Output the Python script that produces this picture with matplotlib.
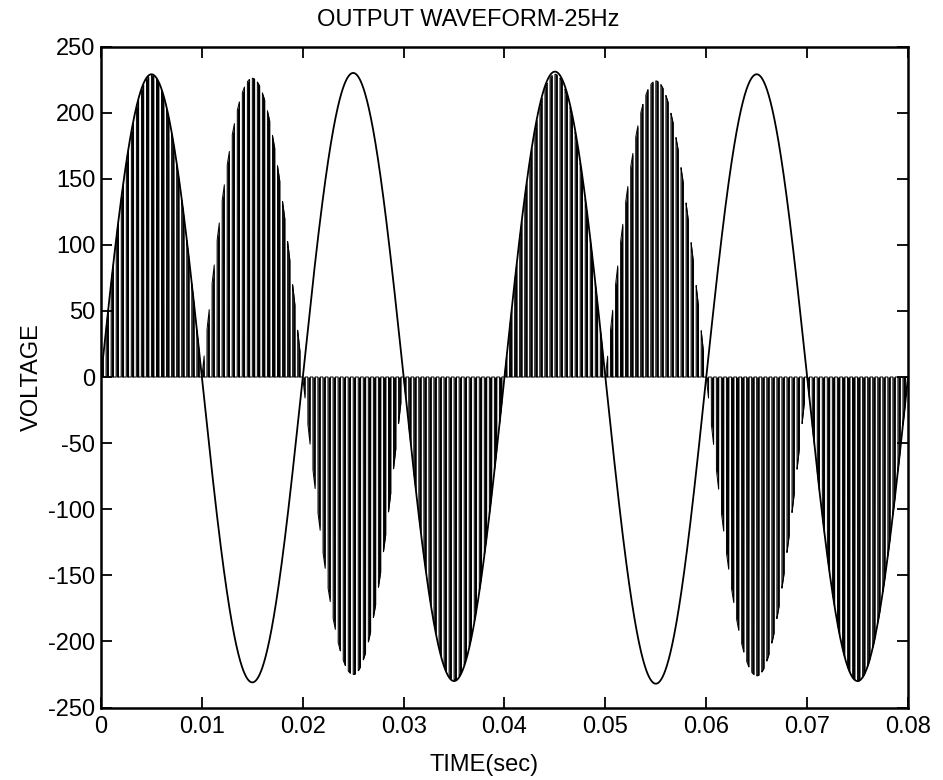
import numpy as np
import matplotlib
matplotlib.use("Agg")
import matplotlib.pyplot as plt

plt.rcParams["font.family"] = ["Liberation Sans", "DejaVu Sans"]
plt.rcParams["font.size"] = 17

# half-cycle layout of the 50 Hz supply (s)
half_starts = [0.0, 0.01, 0.02, 0.03, 0.04, 0.05, 0.06, 0.07]
half_len = 0.01
# peak of the thin supply sine in each half cycle (V)
sine_peaks = [229, -231, 230, -230, 231, -232, 229, -230]
# peak of the chopped 25 Hz output in each half cycle (V)
out_peaks = [228, 226, -225, -229, 229, 224, -226, -230]
pulses_per_half = 20
duty = 0.45

x_ticks = [0, 0.01, 0.02, 0.03, 0.04, 0.05, 0.06, 0.07, 0.08]
x_labels = ["0", "0.01", "0.02", "0.03", "0.04", "0.05", "0.06", "0.07", "0.08"]
y_ticks = [-250, -200, -150, -100, -50, 0, 50, 100, 150, 200, 250]
y_labels = ["-250", "-200", "-150", "-100", "-50", "0", "50", "100", "150", "200", "250"]

fig = plt.figure(figsize=(9.43, 7.8), dpi=100)
ax = fig.add_axes([101 / 943, 1 - 707.5 / 780, 807 / 943, 661 / 780])

t_all, sine_all, out_all = [], [], []
for start, sp, op in zip(half_starts, sine_peaks, out_peaks):
    t = np.linspace(start, start + half_len, 10001)
    env = np.sin(np.pi * (t - start) / half_len)
    phase = ((t - start) * pulses_per_half / half_len) % 1.0
    gate = (phase < duty).astype(float)
    t_all.append(t)
    sine_all.append(sp * env)
    out_all.append(op * np.abs(env) * gate)
t_all = np.concatenate(t_all)
sine_all = np.concatenate(sine_all)
out_all = np.concatenate(out_all)

ax.fill_between(t_all, 0, out_all, color="black", lw=0)
ax.plot(t_all, out_all, color="black", lw=0.7)
ax.plot(t_all, sine_all, color="black", lw=1.3)

ax.set_xlim(0, 0.08)
ax.set_ylim(-250, 250)
ax.set_xticks(x_ticks)
ax.set_xticklabels(x_labels)
ax.set_yticks(y_ticks)
ax.set_yticklabels(y_labels)
ax.tick_params(direction="in", length=8, width=1.3, top=True, right=True)
ax.tick_params(axis="x", pad=6)
ax.tick_params(axis="y", pad=4)
for s in ax.spines.values():
    s.set_linewidth(1.8)

ax.set_title("OUTPUT WAVEFORM-25Hz", fontsize=17, pad=15, x=0.455)
ax.set_xlabel("TIME(sec)", labelpad=12, x=0.475)
ax.set_ylabel("VOLTAGE", labelpad=4)

fig.savefig("out.png", dpi=100)
